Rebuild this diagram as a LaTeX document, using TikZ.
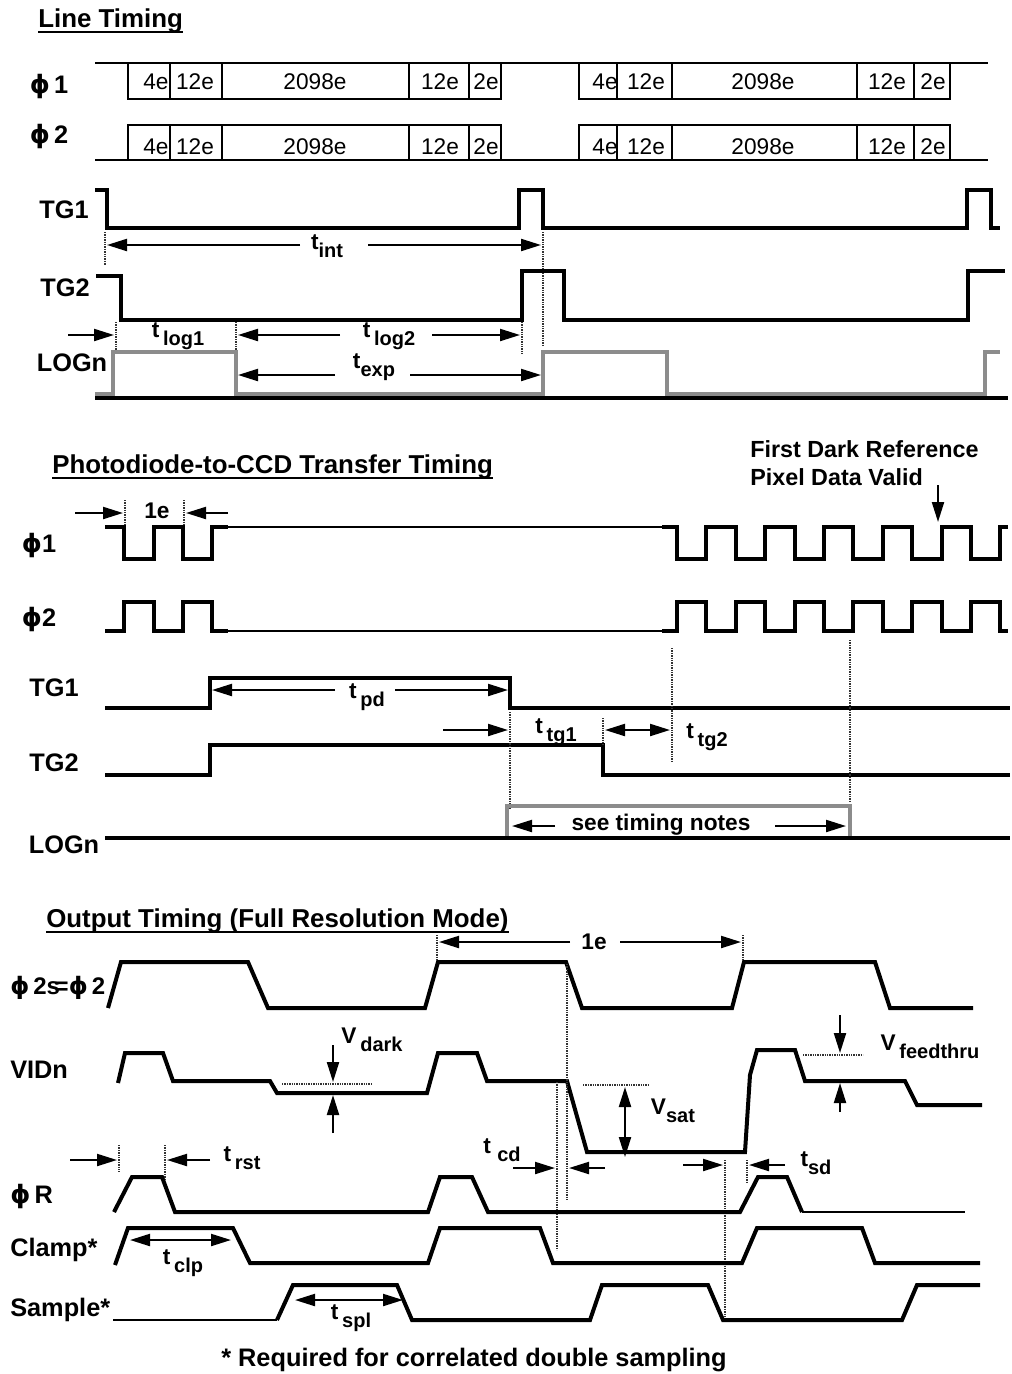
\documentclass[tikz,border=0pt]{standalone}
\usepackage{fontspec}
\setmainfont{Liberation Sans}
\newfontfamily\phifont{DejaVu Sans}
\usetikzlibrary{arrows.meta}
\newcommand{\myphi}{{\phifont ϕ}}
\newcommand{\tsb}[2]{#1{\fontsize{15}{15}\selectfont\raisebox{-0.4em}{#2}}}
\begin{document}
\begin{tikzpicture}[x=0.75pt,y=-0.75pt,
 sig/.style={line width=3pt, line join=miter},
 thinsig/.style={line width=1.6pt},
 gsig/.style={line width=3pt, draw=black!45},
 boxl/.style={line width=2.2pt},
 dimline/.style={line width=1.6pt},
 arr/.style={dimline, -{Triangle[length=15pt,width=9pt]}},
 darr/.style={dimline, {Triangle[length=15pt,width=9pt]}-{Triangle[length=15pt,width=9pt]}},
 guide/.style={line width=1.6pt, dash pattern=on 1pt off 0.8pt, draw=black!80},
 lbl/.style={font=\fontsize{19}{19}\selectfont\bfseries, inner sep=0pt},
 ttl/.style={font=\fontsize{19.4}{20}\selectfont\bfseries, inner sep=0pt},
 num/.style={font=\fontsize{17}{17}\selectfont, inner sep=0pt},
 tl/.style={font=\fontsize{17}{17}\selectfont\bfseries, inner sep=0pt},
 note/.style={font=\fontsize{17.5}{18}\selectfont\bfseries, inner sep=0pt},
]
\useasboundingbox (0,0) rectangle (1012,1374);
\fill[white] (0,0) rectangle (1012,1374);

%================ Line Timing ================
\node[ttl, anchor=base west] (ttlA) at (38,27) {Line Timing};
\draw[line width=1.5pt] ([yshift=-4pt]ttlA.base west) -- ([yshift=-4pt]ttlA.base east);

\node[lbl] (aphi1) at (49,87) {\myphi\,1};
\node[lbl] (aphi2) at (49,137) {\myphi\,2};

% phi1 row
\draw[boxl] (95,63) -- (988,63);
\draw[boxl] (128,63) rectangle (501,99);
\foreach \x in {170,222,409,469} \draw[boxl] (\x,63) -- (\x,99);
\draw[boxl] (579,63) rectangle (950,99);
\foreach \x in {617,672,857,914} \draw[boxl] (\x,63) -- (\x,99);
% phi2 row
\draw[boxl] (95,160) -- (988,160);
\draw[boxl] (128,125) rectangle (501,160);
\foreach \x in {170,222,409,469} \draw[boxl] (\x,125) -- (\x,160);
\draw[boxl] (579,125) rectangle (950,160);
\foreach \x in {617,672,857,914} \draw[boxl] (\x,125) -- (\x,160);

\foreach \x/\t/\n in {156/4e/a,195/12e/b,315/2098e/c,440/12e/d,486/2e/e,605/4e/f,646/12e/g,763/2098e/h,887/12e/i,933/2e/j}{
  \node[num] (r1\n) at (\x,82) {\t};
  \node[num] (r2\n) at (\x,147) {\t};
}

% TG1
\node[lbl] (aTG1) at (64,210) {TG1};
\draw[sig] (95,190) -- (107,190) -- (107,228) -- (519,228) -- (519,190) -- (543,190) -- (543,228) -- (967,228) -- (967,190) -- (991,190) -- (991,228) -- (1000,228);
% t_int
\draw[guide] (105,232) -- (105,265);
\draw[guide] (543,232) -- (543,345);
\node[tl] (tint) at (327,246) {\tsb{t}{int}};
\draw[arr] (300,245) -- (107,245);
\draw[arr] (368,245) -- (541,245);

% TG2
\node[lbl] (aTG2) at (65,288) {TG2};
\draw[sig] (96,276) -- (121,276) -- (121,320) -- (522,320) -- (522,271) -- (564,271) -- (564,320) -- (968,320) -- (968,271) -- (1005,271);

% t_log
\draw[guide] (116,322) -- (116,354);
\draw[guide] (236,322) -- (236,354);
\draw[guide] (522,322) -- (522,354);
\draw[arr] (68,335) -- (114,335);
\node[tl] (tlog1) at (178,336) {\tsb{t\,}{log1}};
\draw[arr] (340,335) -- (238,335);
\node[tl] (tlog2) at (389,336) {\tsb{t\,}{log2}};
\draw[arr] (432,335) -- (520,335);

% LOGn
\node[lbl] (aLOG) at (72,363) {LOGn};
\draw[gsig] (95,394) -- (113,394) -- (113,352) -- (236,352) -- (236,394) -- (543,394) -- (543,352) -- (667,352) -- (667,394) -- (985,394) -- (985,352) -- (1000,352);
\draw[line width=2.5pt] (95,398) -- (1008,398);
% t_exp
\node[tl] (texp) at (374,367) {\tsb{t}{exp}};
\draw[arr] (335,375) -- (238,375);
\draw[arr] (410,375) -- (541,375);

%================ Photodiode-to-CCD ================
\node[ttl, anchor=base west] (ttlB) at (52,473) {Photodiode-to-CCD Transfer Timing};
\draw[line width=1.5pt] ([yshift=-4pt]ttlB.base west) -- ([yshift=-4pt]ttlB.base east);

\node[note, anchor=west] (fdr1) at (750,449) {First Dark Reference};
\node[note, anchor=west] (fdr2) at (750,477) {Pixel Data Valid};
\coordinate (fdrA) at (938,485);
\coordinate (fdrB) at (938,522);
\draw[arr] (fdrA) -- (fdrB);

% 1e
\draw[guide] (125,500) -- (125,535);
\draw[guide] (184,500) -- (184,535);
\draw[arr] (75,513) -- (123,513);
\draw[arr] (228,513) -- (186,513);
\node[tl] (oneA) at (157,511) {1e};

% phi1
\node[lbl] (bphi1) at (39,546) {\myphi1};
\draw[sig] (105,527) -- (124,527) -- (124,559) -- (154,559) -- (154,527) -- (183,527) -- (183,559) -- (212,559) -- (212,527) -- (228,527);
\draw[thinsig] (228,527) -- (662,527);
\draw[sig] (662,527) -- (677,527) -- (677,559) -- (706,559) -- (706,527) -- (736,527) -- (736,559) -- (765,559) -- (765,527) -- (795,527) -- (795,559) -- (824,559) -- (824,527) -- (853,527) -- (853,559) -- (883,559) -- (883,527) -- (912,527) -- (912,559) -- (942,559) -- (942,527) -- (971,527) -- (971,559) -- (1000,559) -- (1000,527) -- (1008,527);
% phi2
\node[lbl] (bphi2) at (39,620) {\myphi2};
\draw[sig] (105,631) -- (124,631) -- (124,602) -- (154,602) -- (154,631) -- (183,631) -- (183,602) -- (212,602) -- (212,631) -- (228,631);
\draw[thinsig] (228,631) -- (662,631);
\draw[sig] (662,631) -- (677,631) -- (677,602) -- (706,602) -- (706,631) -- (736,631) -- (736,602) -- (765,602) -- (765,631) -- (795,631) -- (795,602) -- (824,602) -- (824,631) -- (853,631) -- (853,602) -- (883,602) -- (883,631) -- (912,631) -- (912,602) -- (942,602) -- (942,631) -- (971,631) -- (971,602) -- (1000,602) -- (1000,631) -- (1008,631);

% TG1
\node[lbl] (bTG1) at (54,688) {TG1};
\draw[sig] (105,708) -- (210,708) -- (210,678) -- (510,678) -- (510,708) -- (1010,708);
\node[tl] (tpd) at (367,697) {\tsb{t\,}{pd}};
\draw[arr] (335,690) -- (212,690);
\draw[arr] (395,690) -- (508,690);

% TG2
\node[lbl] (bTG2) at (54,763) {TG2};
\draw[sig] (105,775) -- (210,775) -- (210,745) -- (603,745) -- (603,775) -- (1010,775);

% guides
\draw[guide] (510,712) -- (510,810);
\draw[guide] (603,718) -- (603,745);
\draw[guide] (672,648) -- (672,762);
\draw[guide] (850,640) -- (850,802);
\draw[arr] (443,730) -- (508,730);
\node[tl] (ttg1) at (556,732) {\tsb{t\,}{tg1}};
\draw[darr] (605,730) -- (670,730);
\node[tl] (ttg2) at (707,737) {\tsb{t\,}{tg2}};

% LOGn
\node[lbl] (bLOG) at (64,845) {LOGn};
\draw[gsig] (507,836) -- (507,806) -- (850,806) -- (850,836);
\draw[line width=2.5pt] (105,838) -- (1010,838);
\node[tl] (stn) at (661,825) {see timing notes};
\draw[arr] (555,826) -- (512,826);
\draw[arr] (775,826) -- (846,826);

%================ Output Timing ================
\node[ttl, anchor=base west] (ttlC) at (46,927) {Output Timing (Full Resolution Mode)};
\draw[line width=1.5pt] ([yshift=-4pt]ttlC.base west) -- ([yshift=-4pt]ttlC.base east);

\draw[guide] (437,935) -- (437,964);
\draw[guide] (743,935) -- (743,964);
\node[tl] (oneB) at (594,942) {1e};
\draw[arr] (570,942) -- (439,942);
\draw[arr] (620,942) -- (741,942);

% phi2s
\node[lbl, anchor=west, font=\fontsize{18}{18}\selectfont\bfseries] (cphi2) at (10,988) {\myphi\,2s\kern-4pt=\myphi\,2};
\draw[sig] (108,1008) -- (121,962) -- (248,962) -- (268,1008) -- (425,1008) -- (438,962) -- (566,962) -- (582,1008) -- (732,1008) -- (744,962) -- (875,962) -- (890,1008) -- (973,1008);

% VIDn
\node[lbl, anchor=west] (cVID) at (10,1070) {VIDn};
\draw[sig] (118,1083) -- (125,1053) -- (163,1053) -- (173,1081) -- (270,1081) -- (277,1093) -- (427,1093) -- (438,1053) -- (477,1053) -- (487,1081) -- (567,1081) -- (587,1152) -- (745,1152) -- (750,1075) -- (757,1050) -- (795,1050) -- (805,1081) -- (905,1081) -- (917,1105) -- (982,1105);

% V dark
\draw[guide] (282,1084) -- (372,1084);
\draw[arr] (333,1045) -- (333,1082);
\draw[arr] (333,1133) -- (333,1095);
\node[tl] (vdark) at (372,1040) {\tsb{V\,}{dark}};
% V sat
\draw[guide] (583,1085) -- (648,1085);
\draw[darr] (625,1087) -- (625,1157);
\node[tl] (vsat) at (673,1111) {\tsb{V}{sat}};
% V feedthru
\draw[guide] (803,1055) -- (863,1055);
\draw[arr] (840,1015) -- (840,1053);
\draw[arr] (840,1112) -- (840,1083);
\node[tl] (vfeed) at (930,1047) {\tsb{V\,}{feedthru}};

% guides
\draw[guide] (557,1082) -- (557,1250);
\draw[guide] (567,964) -- (567,1200);
\draw[guide] (725,1160) -- (725,1320);
\draw[guide] (747,1160) -- (747,1182);
\draw[guide] (119,1145) -- (119,1172);
\draw[guide] (165,1145) -- (165,1180);

% t_rst
\draw[arr] (70,1160) -- (117,1160);
\draw[arr] (210,1160) -- (167,1160);
\node[tl] (trst) at (242,1158) {\tsb{t\,}{rst}};
% t_cd
\node[tl] (tcd) at (502,1150) {\tsb{t\ }{cd}};
\draw[arr] (513,1168) -- (555,1168);
\draw[arr] (605,1168) -- (569,1168);
% t_sd
\draw[arr] (683,1165) -- (723,1165);
\draw[arr] (785,1165) -- (749,1165);
\node[tl] (tsd) at (816,1163) {\tsb{t}{sd}};

% phi R
\node[lbl, anchor=west] (cR) at (10,1196) {\myphi\,R};
\draw[sig] (114,1212) -- (132,1177) -- (162,1177) -- (175,1212) -- (428,1212) -- (440,1177) -- (472,1177) -- (488,1212) -- (740,1212) -- (758,1177) -- (787,1177) -- (802,1212);
\draw[thinsig] (802,1212) -- (965,1212);

% Clamp
\node[lbl, anchor=west] (cClamp) at (10,1250) {Clamp*};
\draw[sig] (115,1265) -- (128,1228) -- (233,1228) -- (250,1263) -- (428,1263) -- (440,1228) -- (540,1228) -- (553,1263) -- (742,1263) -- (757,1228) -- (862,1228) -- (875,1263) -- (980,1263);
\draw[darr] (130,1240) -- (231,1240);
\node[tl] (tclp) at (183,1263) {\tsb{t\,}{clp}};

% Sample
\node[lbl, anchor=west] (cSample) at (10,1310) {Sample*};
\draw[thinsig] (113,1320) -- (277,1320);
\draw[sig] (277,1320) -- (293,1285) -- (397,1285) -- (412,1320) -- (590,1320) -- (602,1285) -- (708,1285) -- (723,1320) -- (902,1320) -- (917,1285) -- (980,1285);
\draw[darr] (295,1300) -- (403,1300);
\node[tl] (tspl) at (351,1318) {\tsb{t\,}{spl}};

\node[lbl] (foot) at (474,1360) {* Required for correlated double sampling};
\end{tikzpicture}
\end{document}
